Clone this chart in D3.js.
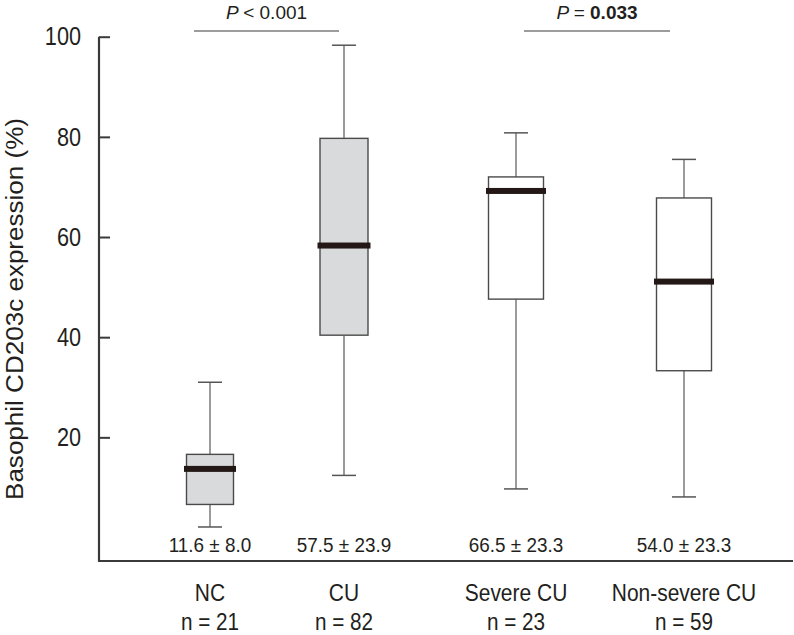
<!DOCTYPE html>
<html>
<head>
<meta charset="utf-8">
<script src="https://cdn.jsdelivr.net/npm/d3@7"></script>
<style>
  html, body { margin: 0; padding: 0; background: #fff; }
  svg text { font-family: "Liberation Sans", Arial, Helvetica, sans-serif; fill: #231f20; }
</style>
</head>
<body>
<svg id="chart" width="794" height="635"></svg>
<script>
// ---- data ----
const categories = ["NC", "CU", "Severe CU", "Non-severe CU"];
const nLabels = ["n = 21", "n = 82", "n = 23", "n = 59"];
const whiskerLow = [2.1, 12.4, 9.7, 8.1];
const q1 = [6.6, 40.4, 47.6, 33.3];
const median = [13.7, 58.3, 69.2, 51.1];
const q3 = [16.6, 79.7, 72.0, 67.8];
const whiskerHigh = [31.0, 98.3, 80.8, 75.5];
const meanSD = ["11.6 ± 8.0", "57.5 ± 23.9", "66.5 ± 23.3", "54.0 ± 23.3"];
const yTicks = [20, 40, 60, 80, 100];
const comparisons = [
  { from: "NC", to: "CU", op: "< ", value: "0.001", bold: false },
  { from: "Severe CU", to: "Non-severe CU", op: "= ", value: "0.033", bold: true }
];

// ---- layout / style ----
const centers = [210, 344, 516, 684];
const boxWidths = [47, 48, 55, 55];
const fills = ["#d9dadb", "#d9dadb", "#ffffff", "#ffffff"];
const bracketOffsets = [[-16, -5], [8, -14]];
const axisX = 99, axisBottomY = 561, axisRight = 793;

const svg = d3.select("#chart");
const y = d3.scaleLinear().domain([0, 100]).range([537.5, 36.7]);
const x = d3.scaleOrdinal().domain(categories).range(centers);

// helper for horizontally condensed text (the reference uses a condensed face)
function label(parent, px, py, size, str, sx) {
  return parent.append("g").attr("transform", `translate(${px},${py}) scale(${sx},1)`)
    .append("text").attr("text-anchor", "middle").attr("font-size", size).text(str);
}

// y axis
const yAxis = d3.axisLeft(y).tickValues(yTicks).tickSize(-11).tickPadding(18).tickSizeOuter(0);
const gy = svg.append("g").attr("transform", `translate(${axisX},0)`).call(yAxis);
gy.attr("font-family", null).attr("font-size", null);
gy.select(".domain").remove();
gy.selectAll(".tick line").attr("stroke", "#3a3a3a").attr("stroke-width", 2);
gy.selectAll(".tick text")
  .attr("font-size", 25.5).attr("fill", "#231f20")
  .attr("x", -18 / 0.85).attr("transform", "scale(0.85,1)");

// axis lines
svg.append("line").attr("x1", axisX).attr("x2", axisX).attr("y1", y(100)).attr("y2", axisBottomY)
  .attr("stroke", "#3a3a3a").attr("stroke-width", 2.2);
svg.append("line").attr("x1", axisX - 1).attr("x2", axisRight).attr("y1", axisBottomY).attr("y2", axisBottomY)
  .attr("stroke", "#3a3a3a").attr("stroke-width", 2.2);

// y label
svg.append("text")
  .attr("transform", `translate(23,309) rotate(-90)`)
  .attr("text-anchor", "middle")
  .attr("font-size", 23.5)
  .attr("textLength", 382).attr("lengthAdjust", "spacingAndGlyphs")
  .text("Basophil CD203c expression (%)");

// boxes
const groups = svg.append("g").selectAll("g").data(categories).join("g");
groups.each(function (c, i) {
  const g = d3.select(this);
  const cx = x(c), w = boxWidths[i];
  g.append("line").attr("x1", cx).attr("x2", cx).attr("y1", y(whiskerHigh[i])).attr("y2", y(q3[i]))
    .attr("stroke", "#7a7a7a").attr("stroke-width", 1.5);
  g.append("line").attr("x1", cx).attr("x2", cx).attr("y1", y(q1[i])).attr("y2", y(whiskerLow[i]))
    .attr("stroke", "#7a7a7a").attr("stroke-width", 1.5);
  [whiskerHigh[i], whiskerLow[i]].forEach(v => {
    g.append("line").attr("x1", cx - 12).attr("x2", cx + 12).attr("y1", y(v)).attr("y2", y(v))
      .attr("stroke", "#555").attr("stroke-width", 1.5);
  });
  g.append("rect").attr("x", cx - w / 2).attr("width", w)
    .attr("y", y(q3[i])).attr("height", y(q1[i]) - y(q3[i]))
    .attr("fill", fills[i]).attr("stroke", "#4a4a4a").attr("stroke-width", 1.4);
  g.append("rect").attr("x", cx - w / 2 - 2.5).attr("width", w + 5)
    .attr("y", y(median[i]) - 3).attr("height", 6).attr("fill", "#231815");
  label(g, cx, 552, 19.5, meanSD[i], 0.97);
  label(g, cx, 601, 23.3, c, 0.9);
  label(g, cx, 629.5, 23, nLabels[i], 0.9);
});

// comparison brackets
comparisons.forEach((cmp, k) => {
  const left = x(cmp.from) + bracketOffsets[k][0];
  const right = x(cmp.to) + bracketOffsets[k][1];
  svg.append("line").attr("x1", left).attr("x2", right).attr("y1", 31).attr("y2", 31)
    .attr("stroke", "#3a3a3a").attr("stroke-width", 1.2);
  const t = svg.append("text").attr("x", (left + right) / 2).attr("y", 19)
    .attr("text-anchor", "middle").attr("font-size", 19);
  t.append("tspan").attr("font-style", "italic").text("P ");
  t.append("tspan").text(cmp.op);
  t.append("tspan").attr("font-weight", cmp.bold ? "bold" : "normal").text(cmp.value);
});
</script>
</body>
</html>
